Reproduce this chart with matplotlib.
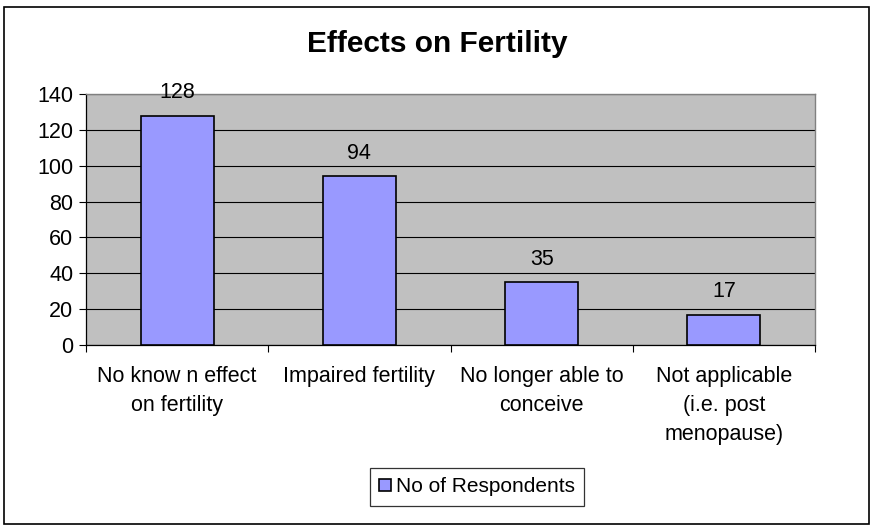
import matplotlib
matplotlib.use("Agg")
import matplotlib.pyplot as plt
from matplotlib.patches import Rectangle

plt.rcParams['font.family'] = ['Liberation Sans', 'DejaVu Sans']

categories = ["No know n effect\non fertility", "Impaired fertility",
              "No longer able to\nconceive", "Not applicable\n(i.e. post\nmenopause)"]
values = [128, 94, 35, 17]
series_name = "No of Respondents"
yticks = [0, 20, 40, 60, 80, 100, 120, 140]

W, H = 874, 527
fig = plt.figure(figsize=(W/100, H/100), dpi=100)
fig.patch.set_facecolor('white')

# outer border
fig.add_artist(Rectangle((4/W, 1 - 524/H), (869-4)/W, (524-7)/H, transform=fig.transFigure,
                         fill=False, edgecolor='black', linewidth=1.2))

left, right, top, bottom = 86, 815, 94, 345
ax = fig.add_axes([left/W, 1 - bottom/H, (right-left)/W, (bottom-top)/H])
ax.set_facecolor('#C0C0C0')

x = list(range(len(values)))
bars = ax.bar(x, values, width=0.4, color='#9999FF', edgecolor='black', linewidth=1.2,
              label=series_name, zorder=3)
ax.set_xlim(-0.5, len(values) - 0.5)
ax.set_ylim(0, 140)
ax.set_yticks(yticks)
ax.set_yticklabels([str(t) for t in yticks], fontsize=15.5)
ax.yaxis.grid(True, color='black', linewidth=0.8, zorder=1)
ax.set_axisbelow(True)

ax.set_xticks([i - 0.5 for i in range(len(values) + 1)])
ax.set_xticklabels([])
ax.set_xticks(x, minor=True)
ax.set_xticklabels(categories, minor=True, fontsize=15.5, linespacing=1.5)
ax.tick_params(axis='x', which='minor', length=0, pad=15)
ax.tick_params(axis='x', which='major', length=5, width=0.8, direction='out')
ax.tick_params(axis='y', length=5, width=0.8, direction='out', pad=4)

for s in ['top', 'right']:
    ax.spines[s].set_color('#808080')
    ax.spines[s].set_linewidth(1)
for s in ['left', 'bottom']:
    ax.spines[s].set_color('black')
    ax.spines[s].set_linewidth(0.9)

for b, v in zip(bars, values):
    ax.annotate(str(v), (b.get_x() + b.get_width()/2, v), xytext=(0, 9),
                textcoords='offset points', ha='center', va='bottom', fontsize=15.5)

fig.text(0.5, 1 - 44/H, "Effects on Fertility", ha='center', va='center',
         fontsize=21.5, fontweight='bold')

leg = fig.legend(handles=[bars], labels=[series_name], loc='center',
                 bbox_to_anchor=(477/W, 1 - 487/H), fontsize=15, frameon=True,
                 fancybox=False, edgecolor='black', handlelength=0.55, handleheight=0.55,
                 handletextpad=0.25, borderpad=0.45, borderaxespad=0)
leg.get_frame().set_linewidth(0.9)

fig.savefig("out.png", dpi=100, facecolor='white')
